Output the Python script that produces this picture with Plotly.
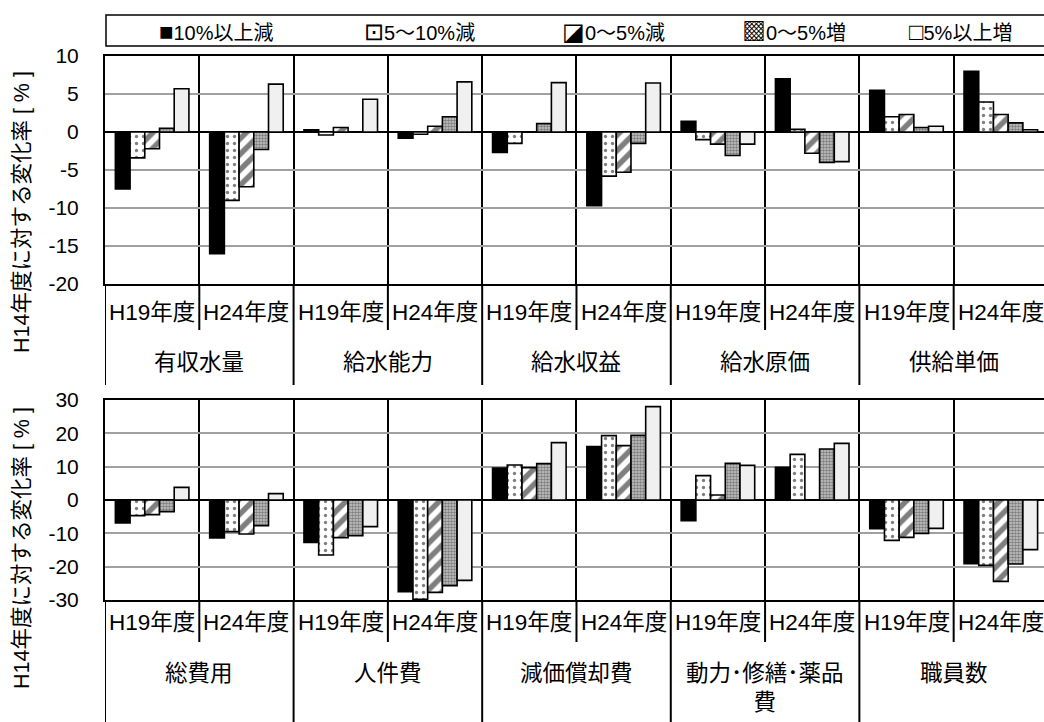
import plotly.graph_objects as go

# ---- data -------------------------------------------------------------
years = ["H19年度", "H24年度"]
groups_top = ["有収水量", "給水能力", "給水収益", "給水原価", "供給単価"]
groups_bottom = ["総費用", "人件費", "減価償却費", "動力･修繕･薬品<br>費", "職員数"]
series_names = ["10%以上減", "5～10%減", "0～5%減", "0～5%増", "5%以上増"]
legend_symbols = ["■", "⊡", "◪", "▩", "□"]

# change rate vs H14 [%], one list per series, ordered group by group (H19, H24)
top_10_down = [-7.5, -16.0, 0.3, -0.8, -2.7, -9.7, 1.4, 7.0, 5.5, 8.0]
top_5_10_down = [-3.4, -9.0, -0.4, -0.3, -1.5, -5.8, -1.0, 0.35, 2.0, 3.95]
top_0_5_down = [-2.2, -7.2, 0.6, 0.75, 0.0, -5.3, -1.6, -2.8, 2.3, 2.3]
top_0_5_up = [0.5, -2.3, 0.0, 2.0, 1.1, -1.5, -3.1, -4.0, 0.6, 1.2]
top_5_up = [5.7, 6.3, 4.3, 6.6, 6.5, 6.45, -1.6, -3.9, 0.75, 0.3]

bot_10_down = [-6.9, -11.4, -12.7, -27.5, 9.6, 16.0, -6.2, 9.8, -8.6, -19.1]
bot_5_10_down = [-4.7, -9.5, -16.5, -29.8, 10.5, 19.3, 7.3, 13.7, -12.1, -19.6]
bot_0_5_down = [-4.4, -10.2, -11.3, -27.7, 9.7, 16.3, 1.5, 0.0, -11.2, -24.4]
bot_0_5_up = [-3.5, -7.7, -10.7, -25.7, 10.9, 19.4, 11.0, 15.3, -10.0, -19.2]
bot_5_up = [3.8, 1.9, -8.0, -24.1, 17.2, 28.0, 10.4, 17.0, -8.5, -14.9]

top_tickvals = [10, 5, 0, -5, -10, -15, -20]
top_ticktext = ["10", "5", "0", "-5", "-10", "-15", "-20"]
bot_tickvals = [30, 20, 10, 0, -10, -20, -30]
bot_ticktext = ["30", "20", "10", "0", "-10", "-20", "-30"]

y_title = "H14年度に対する変化率 [ % ]"

# ---- styling ----------------------------------------------------------
W, H = 1044, 722
FONT = "Liberation Sans, Arial, Noto Sans CJK JP, sans-serif"


def py(px):
    """pixel row -> paper y"""
    return 1 - px / H


def pxx(px):
    """pixel column -> paper x"""
    return px / W


styles = [
    dict(color="black", pattern=None),
    dict(color="white", pattern=dict(shape=".", fgcolor="black", bgcolor="white", size=7, solidity=0.18)),
    dict(color="white", pattern=dict(shape="/", fgcolor="black", bgcolor="white", size=11, solidity=0.5)),
    dict(color="#999999", pattern=dict(shape=".", fgcolor="#333333", bgcolor="#c8c8c8", size=3, solidity=0.55)),
    dict(color="#f0f0f0", pattern=None),
]

cats_top = [f"{g} {y}" for g in groups_top for y in years]
cats_bot = [f"{g} {y}" for g in groups_bottom for y in years]

top_series = [top_10_down, top_5_10_down, top_0_5_down, top_0_5_up, top_5_up]
bot_series = [bot_10_down, bot_5_10_down, bot_0_5_down, bot_0_5_up, bot_5_up]

fig = go.Figure()
for name, st, vt, vb in zip(series_names, styles, top_series, bot_series):
    for cats, vals, xa, ya in ((cats_top, vt, "x", "y"), (cats_bot, vb, "x2", "y2")):
        marker = dict(color=st["color"], line=dict(color="black", width=1.6))
        if st["pattern"]:
            marker["pattern"] = st["pattern"]
        fig.add_trace(go.Bar(x=cats, y=vals, name=name, marker=marker,
                             xaxis=xa, yaxis=ya, showlegend=False))

x_dom = [pxx(105), 1.0]
top_dom = [py(284), py(56)]
bot_dom = [py(600), py(400)]
x_range = [-0.5, 9.458]

xaxis_common = dict(
    type="category", range=x_range, domain=x_dom, tickson="boundaries",
    showgrid=True, gridcolor="black", gridwidth=2, showticklabels=False,
    ticks="", showline=True, linecolor="black", linewidth=2, mirror=True,
    zeroline=False, fixedrange=True, automargin=False,
)
yaxis_common = dict(
    showgrid=True, gridcolor="#a0a0a0", gridwidth=2, zeroline=True,
    zerolinecolor="black", zerolinewidth=2, showline=True, linecolor="black",
    linewidth=2, ticks="", ticklabelstandoff=20, automargin=False,
    tickfont=dict(size=21, color="black", family=FONT), fixedrange=True,
)

fig.update_layout(
    width=W, height=H,
    margin=dict(l=0, r=0, t=0, b=0, pad=0, autoexpand=False),
    paper_bgcolor="white", plot_bgcolor="white", showlegend=False,
    barmode="group", bargap=0.22, bargroupgap=0.0,
    font=dict(family=FONT, color="black"),
    xaxis=dict(xaxis_common, anchor="y"),
    xaxis2=dict(xaxis_common, anchor="y2"),
    yaxis=dict(yaxis_common, domain=top_dom, anchor="x", range=[-20, 10],
               tickvals=top_tickvals, ticktext=top_ticktext),
    yaxis2=dict(yaxis_common, domain=bot_dom, anchor="x2", range=[-30, 30],
                tickvals=bot_tickvals, ticktext=bot_ticktext),
)

annotations = []
shapes = []

# category table under each panel
for xref, groups, y_year, y_group, plot_bottom, short_end, long_end in (
    ("x", groups_top, 312, 362, 284, 330, 385),
    ("x2", groups_bottom, 622, 673, 600, 642, 722),
):
    for gi, g in enumerate(groups):
        for yi, yr in enumerate(years):
            annotations.append(dict(
                x=gi * 2 + yi, xref=xref, y=py(y_year), yref="paper", text=yr,
                showarrow=False, font=dict(size=22.5, family=FONT, color="black"),
                xanchor="center", yanchor="middle"))
        annotations.append(dict(
            x=gi * 2 + 0.5, xref=xref, y=py(y_group - 14), yref="paper", text=g,
            showarrow=False, font=dict(size=22.5, family=FONT, color="black"),
            xanchor="center", yanchor="top", align="center"))
    # separators below the plot area
    for b in range(-1, 10):
        pos = b + 0.5
        end = long_end if b % 2 == 1 else short_end
        shapes.append(dict(
            type="line", xref=xref, yref="paper", x0=pos, x1=pos,
            y0=py(plot_bottom), y1=py(end), line=dict(color="black", width=2)))

# y-axis titles
for yc in (212, 548):
    annotations.append(dict(
        x=pxx(22), y=py(yc), xref="paper", yref="paper", text=y_title,
        textangle=-90, showarrow=False,
        font=dict(size=21.5, family=FONT, color="black"),
        xanchor="center", yanchor="middle"))

# legend box
shapes.append(dict(type="rect", xref="paper", yref="paper",
                   x0=pxx(106), x1=pxx(1050), y0=py(46), y1=py(15),
                   line=dict(color="black", width=1.5), fillcolor="white",
                   layer="below"))
legend_x = [157, 362, 560, 740, 907]
for lx, sym, name in zip(legend_x, legend_symbols, series_names):
    annotations.append(dict(
        x=pxx(lx), y=py(31), xref="paper", yref="paper",
        text=f'<span style="font-size:24px">{sym}</span>{name}',
        showarrow=False, font=dict(size=20, family=FONT, color="black"),
        xanchor="left", yanchor="middle"))

fig.update_layout(annotations=annotations, shapes=shapes)

fig.write_html("out.html")
